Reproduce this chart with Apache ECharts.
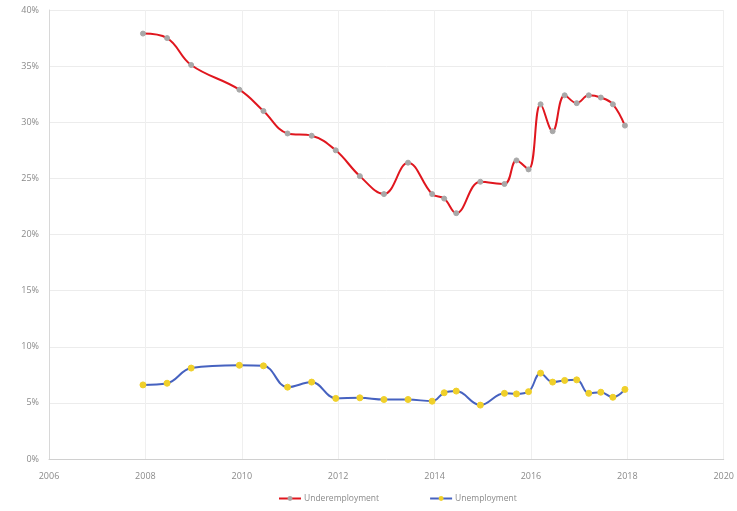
<!DOCTYPE html>
<html>
<head>
<meta charset="utf-8">
<script src="https://cdn.jsdelivr.net/npm/echarts@6/dist/echarts.min.js"></script>
<style>
  html, body { margin: 0; padding: 0; background: #fff; }
  #chart { width: 737px; height: 511px; }
</style>
</head>
<body>
<div id="chart"></div>
<script>
// Survey dates (decimal years)
const dates = [2007.95, 2008.45, 2008.95, 2009.95, 2010.45, 2010.95, 2011.45, 2011.95,
  2012.45, 2012.95, 2013.45, 2013.95, 2014.2, 2014.45, 2014.95, 2015.45, 2015.7,
  2015.95, 2016.2, 2016.45, 2016.7, 2016.95, 2017.2, 2017.45, 2017.7, 2017.95];

// Rates, percent
const underemployment = [37.9, 37.5, 35.1, 32.9, 31.0, 29.0, 28.8, 27.5, 25.2, 23.6,
  26.4, 23.6, 23.2, 21.9, 24.7, 24.5, 26.6, 25.8, 31.6, 29.2, 32.4, 31.7, 32.4, 32.2,
  31.6, 29.7];
const unemployment = [6.6, 6.75, 8.1, 8.35, 8.3, 6.4, 6.85, 5.4, 5.45, 5.3, 5.3, 5.15,
  5.9, 6.05, 4.8, 5.85, 5.8, 6.0, 7.65, 6.85, 7.0, 7.05, 5.85, 5.95, 5.5, 6.2];

const seriesNames = ['Underemployment', 'Unemployment'];

const pairs = vals => dates.map((d, i) => [d, vals[i]]);

const chart = echarts.init(document.getElementById('chart'));
chart.setOption({
  animation: false,
  backgroundColor: '#ffffff',
  grid: { left: 49, right: 10, top: 10, bottom: 52, containLabel: false },
  xAxis: {
    type: 'value', min: 2006, max: 2020, interval: 2,
    axisLine: { show: true, lineStyle: { color: '#d0d0d0' } },
    axisTick: { show: false },
    axisLabel: { formatter: v => String(v), color: '#8a8a8a', fontSize: 9, fontFamily: 'Open Sans', margin: 13 },
    splitLine: { show: true, lineStyle: { color: '#efefef' } }
  },
  yAxis: {
    type: 'value', min: 0, max: 40, interval: 5,
    axisLine: { show: true, lineStyle: { color: '#d8d8d8' } },
    axisTick: { show: false },
    axisLabel: { formatter: '{value}%', color: '#8a8a8a', fontSize: 9, fontFamily: 'Open Sans', margin: 10 },
    splitLine: { show: true, lineStyle: { color: '#ececec' } }
  },
  legend: {
    bottom: 3, left: 273,
    itemWidth: 22, itemHeight: 6, itemGap: 50,
    textStyle: { color: '#8a8a8a', fontSize: 8.5, fontFamily: 'Open Sans', padding: [0, 0, 0, -2] },
    data: seriesNames
  },
  series: [
    {
      name: seriesNames[0], type: 'line', smooth: 0.4,
      data: pairs(underemployment),
      symbol: 'circle', symbolSize: 5,
      lineStyle: { color: '#e0161e', width: 2 },
      itemStyle: { color: '#a8a8a8', borderColor: '#a8a8a8' }
    },
    {
      name: seriesNames[1], type: 'line', smooth: 0.4,
      data: pairs(unemployment),
      symbol: 'circle', symbolSize: 6,
      lineStyle: { color: '#4662c0', width: 2 },
      itemStyle: { color: '#f0d02a', borderColor: '#f0d02a' }
    }
  ]
});
</script>
</body>
</html>
